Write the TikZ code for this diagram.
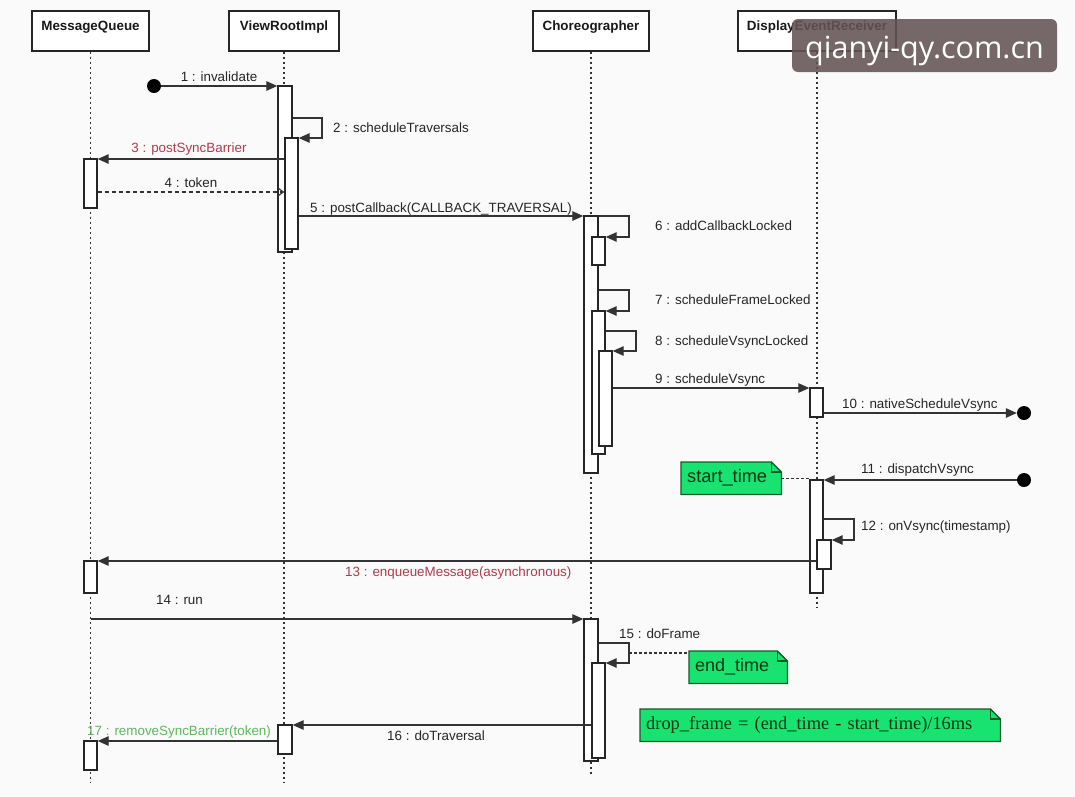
\documentclass[tikz,border=0pt]{standalone}
\usepackage{fontspec}
\setmainfont{Liberation Sans}
\newfontfamily\serifnote{Liberation Serif}
\newfontfamily\wmfont{Open Sans}
\usetikzlibrary{arrows.meta,fit,backgrounds}
\definecolor{bgc}{RGB}{250,250,250}
\definecolor{redlbl}{RGB}{176,58,78}
\definecolor{greenlbl}{RGB}{92,184,92}
\definecolor{notefill}{RGB}{24,226,112}
\definecolor{notedraw}{RGB}{20,90,40}
\definecolor{notetext}{RGB}{15,55,20}
\definecolor{wmc}{RGB}{100,84,84}
\tikzset{
 head/.style={draw=black!85, line width=1.4pt, fill=white, inner sep=0pt},
 hlbl/.style={font=\bfseries\fontsize{13.4}{14}\selectfont, anchor=base, text=black!90, inner sep=0pt},
 life/.style={draw=black!80, line width=1.7pt, dash pattern=on 2pt off 3pt},
 act/.style={draw=black!85, fill=white, line width=1.4pt, inner sep=0pt},
 msg/.style={draw=black!80, line width=1.3pt, -{Triangle[length=11pt,width=9.5pt]}},
 ret/.style={draw=black!80, line width=1.2pt, dash pattern=on 4pt off 3pt, -{Straight Barb[length=6pt,width=9pt]}},
 lbl/.style={font=\fontsize{13.4}{15}\selectfont, text=black!85, inner sep=0pt},
 dotn/.style={circle, fill=black, inner sep=0pt, minimum size=14pt},
 notetx/.style={inner sep=0pt, anchor=north west, text=notetext, align=left},
 notebg/.style={fill=notefill, draw=notedraw, line width=1.3pt},
 nline/.style={draw=black!80, line width=1.3pt, dash pattern=on 2.5pt off 2.5pt},
}
\begin{document}
\begin{tikzpicture}[x=1pt,y=-1pt]
\begin{scope}[on background layer]
\fill[bgc] (0,0) rectangle (1075,796);
\end{scope}
\useasboundingbox (0,0) rectangle (1075,796);

% heads
\node[head, fit={(32,11)(149,51)}] (MQ) {};
\node[hlbl] (MQl) at (MQ.north |- 0,30) {MessageQueue};
\node[head, fit={(229,11)(339,51)}] (VR) {};
\node[hlbl] (VRl) at (VR.north |- 0,30) {ViewRootImpl};
\node[head, fit={(533,11)(649,51)}] (CH) {};
\node[hlbl] (CHl) at (CH.north |- 0,30) {Choreographer};
\node[head, fit={(738,11)(896,51)}] (DE) {};
\node[hlbl] (DEl) at (DE.north |- 0,30) {DisplayEventReceiver};

% lifelines
\draw[life] (MQ.south) -- (MQ.south |- 0,782);
\draw[life] (VR.south) -- (VR.south |- 0,782);
\draw[life] (CH.south) -- (CH.south |- 0,775);
\draw[life] (DE.south) -- (DE.south |- 0,608);

% activations
\node[act, fit={(278,86)(292,252)}] (A1) {};
\node[act, fit={(285,138)(298,249)}] (A2) {};
\node[act, fit={(84,159)(97,208)}] (M1) {};
\node[act, fit={(584,216)(598,473)}] (C1) {};
\node[act, fit={(592,237)(605,265)}] (C2) {};
\node[act, fit={(592,311)(605,454)}] (C3) {};
\node[act, fit={(599,351)(612,446)}] (C4) {};
\node[act, fit={(810,388)(823,417)}] (D1) {};
\node[act, fit={(810,480)(823,593)}] (D2) {};
\node[act, fit={(817,540)(831,569)}] (D3) {};
\node[act, fit={(84,561)(97,593)}] (M2) {};
\node[act, fit={(584,619)(598,761)}] (C5) {};
\node[act, fit={(592,663)(605,758)}] (C6) {};
\node[act, fit={(278,725)(292,754)}] (V3) {};
\node[act, fit={(84,741)(97,770)}] (M3) {};

% start / end dots
\node[dotn] (S1) at (154,86) {};
\node[dotn] (E10) at (1024,413) {};
\node[dotn] (S11) at (1024,480) {};

% messages
\draw[msg] (S1) -- (A1.west |- S1);
\draw[msg] (A1.east |- 0,118) -- (322,118) -- (322,138) -- (A2.east |- 0,138);
\draw[msg] (A2.west |- 0,159) -- (M1.east |- 0,159);
\draw[ret] (M1.east |- 0,192) -- (A2.west |- 0,192);
\draw[msg] (A2.east |- 0,216) -- (C1.west |- 0,216);
\draw[msg] (C1.east |- 0,216) -- (629,216) -- (629,237) -- (C2.east |- 0,237);
\draw[msg] (C1.east |- 0,290) -- (629,290) -- (629,311) -- (C3.east |- 0,311);
\draw[msg] (C3.east |- 0,331) -- (636,331) -- (636,351) -- (C4.east |- 0,351);
\draw[msg] (C4.east |- 0,388) -- (D1.west |- 0,388);
\draw[msg] (D1.east |- E10) -- (E10.west);
\draw[msg] (S11.west) -- (D2.east |- S11);
\draw[msg] (D2.east |- 0,519) -- (854,519) -- (854,540) -- (D3.east |- 0,540);
\draw[msg] (D3.west |- 0,561) -- (M2.east |- 0,561);
\draw[msg] (MQ.south |- 0,619) -- (C5.west |- 0,619);
\coordinate (L15) at (629,653);
\draw[msg] (C5.east |- 0,643) -- (629,643) -- (629,663) -- (C6.east |- 0,663);
\draw[msg] (C6.west |- 0,725) -- (V3.east |- 0,725);
\draw[msg] (V3.west |- 0,741) -- (M3.east |- 0,741);

% labels
\node[lbl, anchor=base] (l1) at (219,81) {1 : invalidate};
\node[lbl, anchor=base west] (l2) at (333,132) {2 : scheduleTraversals};
\node[lbl, anchor=base, text=redlbl] (l3) at (189,152) {3 : postSyncBarrier};
\node[lbl, anchor=base] (l4) at (191,187) {4 : token};
\node[lbl, anchor=base west] (l5) at (310,212) {5 : postCallback(CALLBACK\_TRAVERSAL)};
\node[lbl, anchor=base west] (l6) at (655,230) {6 : addCallbackLocked};
\node[lbl, anchor=base west] (l7) at (655,304) {7 : scheduleFrameLocked};
\node[lbl, anchor=base west] (l8) at (655,345) {8 : scheduleVsyncLocked};
\node[lbl, anchor=base west] (l9) at (655,383) {9 : scheduleVsync};
\node[lbl, anchor=base west] (l10) at (842,408) {10 : nativeScheduleVsync};
\node[lbl, anchor=base west] (l11) at (861,473) {11 : dispatchVsync};
\node[lbl, anchor=base west] (l12) at (861,530) {12 : onVsync(timestamp)};
\node[lbl, anchor=base west, text=redlbl] (l13) at (345,576) {13 : enqueueMessage(asynchronous)};
\node[lbl, anchor=base west] (l14) at (156,604) {14 : run};
\node[lbl, anchor=base west] (l15) at (619,638) {15 : doFrame};
\node[lbl, anchor=base] (l16) at (436,740) {16 : doTraversal};
\node[lbl, anchor=base west, text=greenlbl] (l17) at (87,735) {17 : removeSyncBarrier(token)};

% notes
\node[notetx, minimum width=100pt, minimum height=32pt, inner xsep=6pt, text width=88pt, font=\fontsize{18.2}{20}\selectfont] (ST) at (681,462) {start\_time};
\node[notetx, minimum width=98pt, minimum height=32pt, inner xsep=6pt, text width=86pt, font=\fontsize{18}{20}\selectfont] (ET) at (689,651) {end\_time};
\node[notetx, minimum width=360pt, minimum height=32pt, inner xsep=6pt, text width=348pt, font=\serifnote\fontsize{18.4}{20}\selectfont] (DF) at (640,709) {drop\_frame = (end\_time - start\_time)/16ms};
\begin{scope}[on background layer]
\foreach \n in {ST,ET,DF} {
  \filldraw[notebg] (\n.north west) -- ([xshift=-10pt]\n.north east) -- ([yshift=-10pt]\n.north east) -- (\n.south east) -- (\n.south west) -- cycle;
  \draw[notedraw, line width=1.1pt] ([xshift=-10pt]\n.north east) -- ([xshift=-10pt,yshift=-10pt]\n.north east) -- ([yshift=-10pt]\n.north east);
}
\end{scope}
\draw[nline] (ST.east) -- (D2.west |- ST.east);
\draw[nline] (L15) -- (ET.west |- L15);

% watermark
\fill[wmc, opacity=0.88, rounded corners=6pt] (792,19) rectangle (1057,72);
\node[inner sep=0pt, anchor=base, text=white, font=\wmfont\fontsize{30.5}{32}\selectfont] (WM) at (924.5,58) {qianyi-qy.com.cn};
\end{tikzpicture}
\end{document}
